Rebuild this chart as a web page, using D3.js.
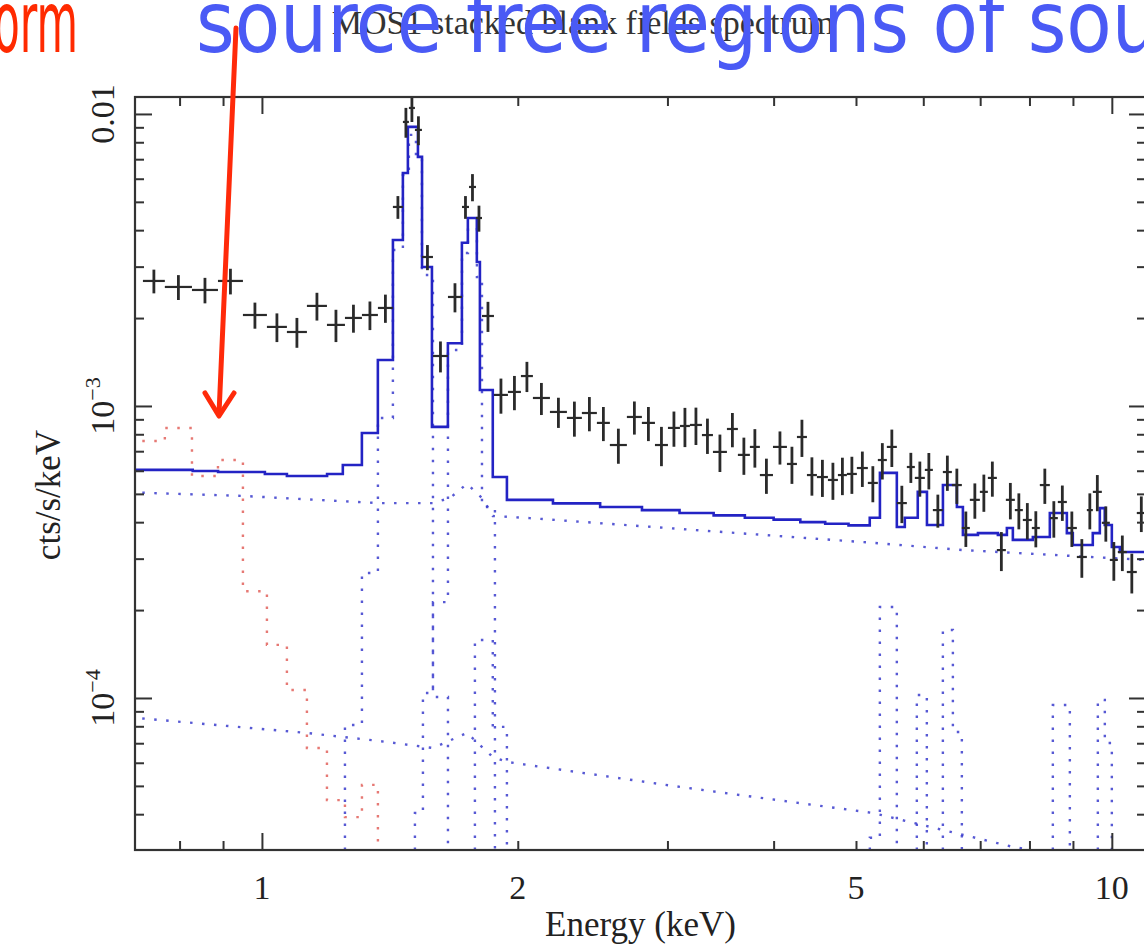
<!DOCTYPE html>
<html>
<head>
<meta charset="utf-8">
<script src="https://cdn.jsdelivr.net/npm/d3@7"></script>
<style>
  body { margin: 0; background: #fff; }
  svg { display: block; }
</style>
</head>
<body>
<div id="chart"></div>
<script>
// ---- values ----

// data: energy bin edges (keV), rate (cts/s/keV), 1-sigma error
var binEdges = [0.7244, 0.7687, 0.8273, 0.8877, 0.9498, 1.0136, 1.0700, 1.1296, 1.1926, 1.2522,
  1.3112, 1.3692, 1.4259, 1.4651, 1.4891, 1.5136, 1.5426, 1.5894, 1.6553, 1.7194,
  1.7523, 1.7858, 1.8151, 1.8750, 1.9474, 2.0171, 2.0837, 2.1820, 2.2848, 2.3793,
  2.4780, 2.5667, 2.6878, 2.7993, 2.9002, 3.0041, 3.1033, 3.1885, 3.2940, 3.3936,
  3.5246, 3.6308, 3.7508, 3.8537, 3.9929, 4.1469, 4.2608, 4.3777, 4.4978, 4.6339,
  4.7610, 4.8784, 5.0119, 5.1633, 5.3050, 5.4360, 5.5852, 5.7387, 5.8644, 6.0256,
  6.1577, 6.3267, 6.4831, 6.6608, 6.8067, 6.9940, 7.1471, 7.3235, 7.5044, 7.6894,
  7.8578, 8.0514, 8.2277, 8.4537, 8.6389, 8.8526, 9.0957, 9.3452, 9.4985, 9.7327,
  9.9460, 10.164, 10.415, 10.700, 10.965];
var rate = [0.00268, 0.002556, 0.002496, 0.00268, 0.002049, 0.001865, 0.001792, 0.002201, 0.001895, 0.002002,
  0.002049, 0.002166, 0.004803, 0.009389, 0.010484, 0.008816, 0.003237, 0.001483, 0.002362, 0.004803,
  0.005623, 0.004402, 0.002033, 0.001091, 0.001117, 0.001266, 0.001065, 0.000954, 0.00091, 0.000946,
  0.000875, 0.000735, 0.000917, 0.000875, 0.000735, 0.000841, 0.000854, 0.000861, 0.000795, 0.000696,
  0.000834, 0.00068, 0.000724, 0.00058, 0.000724, 0.000633, 0.000783, 0.00058, 0.000571, 0.000558,
  0.00058, 0.000585, 0.000613, 0.000545, 0.000653, 0.000724, 0.000465, 0.000618, 0.000567, 0.000604,
  0.00044, 0.000594, 0.000536, 0.000382, 0.000477, 0.000508, 0.000567, 0.000321, 0.000477, 0.00044,
  0.000407, 0.000382, 0.000536, 0.000413, 0.000469, 0.000382, 0.000304, 0.00044, 0.000508, 0.000398,
  0.000297, 0.000316, 0.00027, 0.00043];
var rateErr = [0.00025, 0.00025, 0.00025, 0.00027, 0.00021, 0.00021, 0.00021, 0.00024, 0.00024, 0.00022,
  0.00023, 0.00024, 0.00043, 0.0011, 0.0011, 0.0010, 0.00032, 0.00018, 0.00027, 0.00043,
  0.0006, 0.00045, 0.00024, 0.00015, 0.00015, 0.00015, 0.000134, 0.000113, 0.000125, 0.000127,
  0.000117, 0.000101, 0.000119, 0.000117, 0.000113, 0.000116, 0.000131, 0.000126, 0.00011, 0.000102,
  0.000112, 0.000099, 0.000109, 0.00008, 0.000094, 0.000092, 0.000114, 0.000087, 0.000083, 0.000081,
  0.000085, 0.000085, 0.000085, 0.000077, 0.000093, 0.000106, 0.000068, 0.000073, 0.000078, 0.000086,
  0.000057, 0.000082, 0.000074, 0.000053, 0.000066, 0.000074, 0.000078, 0.000049, 0.000068, 0.000062,
  0.000058, 0.000054, 0.000074, 0.000059, 0.000065, 0.000053, 0.000046, 0.000062, 0.000072, 0.000055,
  0.000045, 0.000044, 0.000042, 0.00006];

// total model (solid blue step line)
var modelEdges = [0.709, 0.829, 0.888, 1.008, 1.070, 1.193, 1.245, 1.311, 1.369, 1.426,
  1.465, 1.485, 1.526, 1.543, 1.585, 1.655, 1.719, 1.747, 1.790, 1.805,
  1.869, 1.942, 2.2, 2.5, 2.8, 3.1, 3.4, 3.7, 4.0, 4.3,
  4.6, 4.9, 5.19, 5.335, 5.585, 5.707, 5.911, 6.06, 6.328, 6.572,
  6.68, 6.958, 7.344, 7.525, 7.648, 8.074, 8.454, 8.853, 8.997, 9.497,
  9.68, 9.81, 10.0, 10.22, 10.97];
var modelRate = [0.000604, 0.000599, 0.000594, 0.000585, 0.000576, 0.000585, 0.000628, 0.000808, 0.001437, 0.0037,
  0.00628, 0.00903, 0.00713, 0.00299, 0.000848, 0.00164, 0.00362, 0.0044, 0.00311, 0.001134,
  0.000571, 0.000477, 0.000464, 0.000451, 0.00044, 0.00043, 0.000422, 0.000414, 0.000408, 0.0004,
  0.000395, 0.00039, 0.000414, 0.00059, 0.000385, 0.000414, 0.000508, 0.000391, 0.000536, 0.000451,
  0.000362, 0.000367, 0.000362, 0.000382, 0.000348, 0.000356, 0.00043, 0.000367, 0.000334, 0.000367,
  0.000447, 0.000391, 0.000329, 0.000316];

// red dotted component
var redEdges = [0.70, 0.7687, 0.8273, 0.8877, 0.9498, 1.0136, 1.0700, 1.1296, 1.1926, 1.2522, 1.3112, 1.3692];
var redRate = [0.000759, 0.000841, 0.000576, 0.000653, 0.000232, 0.000152, 0.0001065, 0.0000674, 0.0000447, 0.0000391, 0.0000504];

// blue dotted continua
var contHiEnergy = [0.70, 0.950, 1.369, 1.589, 1.664, 1.743, 1.820, 1.869, 2.066, 5.23, 6.68, 10.97];
var contHiRate = [0.000506, 0.000492, 0.000465, 0.000465, 0.000484, 0.000541, 0.00048, 0.00042, 0.000413, 0.00034, 0.000321, 0.000297];
var contLoEnergy = [0.70, 1.1296, 1.376, 1.589, 1.743, 1.869, 1.942, 3.103, 5.23, 7.65, 10.97];
var contLoRate = [0.0000858, 0.0000759, 0.0000712, 0.0000674, 0.0000759, 0.0000628, 0.0000604, 0.0000496, 0.0000404, 0.0000309, 0.0000258];

// blue dotted line components (step edges, rates)
var alEdges = [1.2522, 1.3112, 1.3692, 1.4259, 1.4651, 1.4891, 1.5178, 1.5426, 1.5894, 1.6553];
var alRate = [0.0000808, 0.000268, 0.00091, 0.003421, 0.006181, 0.008477, 0.006959, 0.00281, 0.0001008];
var siEdges = [1.5136, 1.5468, 1.5894, 1.6553, 1.7194, 1.7475, 1.7904, 1.8151, 1.88];
var siRate = [0.0000404, 0.000104, 0.000213, 0.001555, 0.003342, 0.00407, 0.002765, 0.000451];
var edgeEdges = [1.7807, 1.869, 1.942];
var edgeRate = [0.000158, 0.0000796];
var crEdges = [5.191, 5.334, 5.585];
var crRate = [0.0000332, 0.000205];
var mnEdges = [5.896, 6.058];
var mnRate = [0.0001024];
var feEdges = [6.327, 6.501, 6.661];
var feRate = [0.000171, 0.0000765];
var niEdges = [8.523, 8.925];
var niRate = [0.0000946];
var auEdges = [9.628, 9.812, 10.0];
var auRate = [0.0000985, 0.0000701];

// ticks
var xMajorTicks = [1, 10];
var xMinorTicks = [0.8, 0.9, 2, 3, 4, 5, 6, 7, 8, 9];
var xTickLabels = [1, 2, 5, 10];
var yMajorTicks = [1e-4, 1e-3, 1e-2];
var yMinorTicks = [4e-5, 5e-5, 6e-5, 7e-5, 8e-5, 9e-5, 2e-4, 3e-4, 4e-4, 5e-4, 6e-4, 7e-4, 8e-4, 9e-4,
  2e-3, 3e-3, 4e-3, 5e-3, 6e-3, 7e-3, 8e-3, 9e-3];
var yTickLabels = [
  { v: 1e-2, base: "0.01", exp: "" },
  { v: 1e-3, base: "10", exp: "\u22123" },
  { v: 1e-4, base: "10", exp: "\u22124" }
];

// ---- drawing ----
var margin = { top: 97, left: 135 },
    width = 1011,
    height = 753;

var svg = d3.select("#chart").append("svg")
  .attr("width", 1144)
  .attr("height", 947);

svg.append("defs").append("clipPath").attr("id", "plotclip")
  .append("rect").attr("width", width).attr("height", height);

var g = svg.append("g")
  .attr("transform", "translate(" + margin.left + "," + margin.top + ")");

var x = d3.scaleLog().domain([0.709, 10.97]).range([0, width]);
var y = d3.scaleLog().domain([3.016e-5, 1.143e-2]).range([height, 0]);

var serif = "'Liberation Serif', 'DejaVu Serif', serif";

// title
svg.append("text")
  .attr("x", 583).attr("y", 34)
  .attr("text-anchor", "middle")
  .style("font-family", serif).style("font-size", "34px").style("fill", "#333")
  .text("MOS1 stacked blank fields spectrum");

var plot = g.append("g").attr("clip-path", "url(#plotclip)");

var line = d3.line().x(function(d) { return x(d[0]); }).y(function(d) { return y(d[1]); });

function stepPoints(edges, vals, floor) {
  var pts = [];
  if (floor) pts.push([edges[0], floor]);
  vals.forEach(function(v, i) {
    pts.push([edges[i], v]);
    pts.push([edges[i + 1], v]);
  });
  if (floor) pts.push([edges[edges.length - 1], floor]);
  return pts;
}

var blueDot = "#3a3ccc";

// dotted continua
[[contHiEnergy, contHiRate], [contLoEnergy, contLoRate]].forEach(function(c) {
  plot.append("path")
    .attr("d", line(c[0].map(function(e, i) { return [e, c[1][i]]; })))
    .attr("fill", "none").attr("stroke", blueDot).attr("stroke-width", 2.4)
    .attr("stroke-dasharray", "2.5,9.5").attr("opacity", 0.85);
});

// dotted line components
[[alEdges, alRate], [siEdges, siRate], [edgeEdges, edgeRate], [crEdges, crRate],
 [mnEdges, mnRate], [feEdges, feRate], [niEdges, niRate], [auEdges, auRate]].forEach(function(c) {
  plot.append("path")
    .attr("d", line(stepPoints(c[0], c[1], 1e-6)))
    .attr("fill", "none").attr("stroke", blueDot).attr("stroke-width", 2.4)
    .attr("stroke-dasharray", "2.5,9.5").attr("opacity", 0.85);
});

// red dotted component
plot.append("path")
  .attr("d", line(stepPoints(redEdges, redRate, 1e-6).slice(1)))
  .attr("fill", "none").attr("stroke", "#e2625c").attr("stroke-width", 2.4)
  .attr("stroke-dasharray", "2.5,9.5").attr("opacity", 0.85);

// total model
plot.append("path")
  .attr("d", line(stepPoints(modelEdges, modelRate)))
  .attr("fill", "none").attr("stroke", "#2323c4").attr("stroke-width", 2.6);

// data crosses
var bins = rate.map(function(v, i) {
  return { lo: binEdges[i], hi: binEdges[i + 1], v: v, e: rateErr[i] };
});
plot.selectAll(".hbar").data(bins).enter().append("line")
  .attr("class", "hbar")
  .attr("x1", function(d) { return x(d.lo); })
  .attr("x2", function(d) { return x(d.hi); })
  .attr("y1", function(d) { return y(d.v); })
  .attr("y2", function(d) { return y(d.v); })
  .attr("stroke", "#2a2a2a").attr("stroke-width", 2.2);
plot.selectAll(".vbar").data(bins).enter().append("line")
  .attr("class", "vbar")
  .attr("x1", function(d) { return x(Math.sqrt(d.lo * d.hi)); })
  .attr("x2", function(d) { return x(Math.sqrt(d.lo * d.hi)); })
  .attr("y1", function(d) { return y(d.v + d.e); })
  .attr("y2", function(d) { return y(Math.max(d.v - d.e, 1e-6)); })
  .attr("stroke", "#2a2a2a").attr("stroke-width", 2.8);

// frame and ticks (inward, on all four sides)
function addAxis(axisFn, scale, ticks, len, transform) {
  var a = g.append("g")
    .attr("transform", transform)
    .call(axisFn(scale).tickValues(ticks).tickSize(-len).tickFormat(""));
  a.select(".domain").remove();
  a.selectAll("line").attr("stroke", "#333").attr("stroke-width", 2);
}
addAxis(d3.axisBottom, x, xMajorTicks, 17, "translate(0," + height + ")");
addAxis(d3.axisBottom, x, xMinorTicks, 9, "translate(0," + height + ")");
addAxis(d3.axisTop, x, xMajorTicks, 17, "translate(0,0)");
addAxis(d3.axisTop, x, xMinorTicks, 9, "translate(0,0)");
addAxis(d3.axisLeft, y, yMajorTicks, 17, "translate(0,0)");
addAxis(d3.axisLeft, y, yMinorTicks, 9, "translate(0,0)");
addAxis(d3.axisRight, y, yMajorTicks, 17, "translate(" + width + ",0)");
addAxis(d3.axisRight, y, yMinorTicks, 9, "translate(" + width + ",0)");

g.append("rect")
  .attr("width", width).attr("height", height)
  .attr("fill", "none").attr("stroke", "#333").attr("stroke-width", 2.2);

// x tick labels
g.selectAll(".xlab").data(xTickLabels).enter().append("text")
  .attr("x", function(d) { return x(d); })
  .attr("y", height + 49)
  .attr("text-anchor", "middle")
  .style("font-family", serif).style("font-size", "34px").style("fill", "#222")
  .text(function(d) { return d; });

// y tick labels (rotated)
yTickLabels.forEach(function(t) {
  var txt = g.append("text")
    .attr("transform", "translate(-21," + y(t.v) + ") rotate(-90)")
    .attr("text-anchor", "middle")
    .style("font-family", serif).style("font-size", "34px").style("fill", "#222");
  txt.append("tspan").text(t.base);
  if (t.exp) {
    txt.append("tspan").attr("dy", -14).style("font-size", "22px").text(t.exp);
  }
});

// axis titles
svg.append("text")
  .attr("x", margin.left + x(Math.sqrt(0.709 * 10.97))).attr("y", 936)
  .attr("text-anchor", "middle")
  .style("font-family", serif).style("font-size", "35px").style("fill", "#222")
  .text("Energy (keV)");
svg.append("text")
  .attr("transform", "translate(60,495) rotate(-90)")
  .attr("text-anchor", "middle")
  .style("font-family", serif).style("font-size", "35px").style("fill", "#222")
  .text("cts/s/keV");

// hand-drawn annotation overlay
var hand = "'DejaVu Sans Condensed', 'DejaVu Sans', sans-serif";
svg.append("text")
  .attr("x", 78).attr("y", 52)
  .attr("text-anchor", "end")
  .attr("textLength", 165).attr("lengthAdjust", "spacingAndGlyphs")
  .style("font-family", hand).style("font-size", "86px")
  .style("fill", "#ff2a00")
  .text("uniform");
svg.append("text")
  .attr("x", 196).attr("y", 52)
  .attr("textLength", 1078).attr("lengthAdjust", "spacingAndGlyphs")
  .style("font-family", hand).style("font-size", "86px")
  .style("fill", "#4a5af5")
  .text("source free regions of source");
svg.append("line")
  .attr("x1", 236).attr("y1", 28).attr("x2", 219).attr("y2", 414)
  .attr("stroke", "#ff2a0a").attr("stroke-width", 5).attr("stroke-linecap", "round");
svg.append("path")
  .attr("d", "M205,393 L219,416 L234,393")
  .attr("fill", "none")
  .attr("stroke", "#ff2a0a").attr("stroke-width", 5)
  .attr("stroke-linecap", "round").attr("stroke-linejoin", "round");
</script>
</body>
</html>
